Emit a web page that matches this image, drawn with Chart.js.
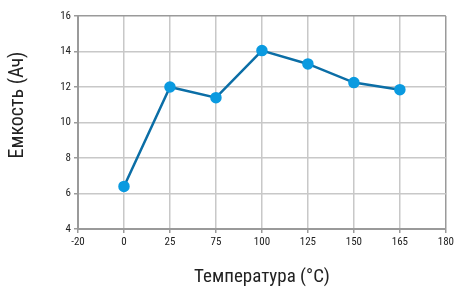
<!DOCTYPE html>
<html lang="ru">
<head>
    <meta charset="UTF-8">
    <title>Емкость от температуры</title>
    <script src="https://cdn.jsdelivr.net/npm/chart.js"></script>
    <style>
        html, body { margin: 0; padding: 0; background: #fff; }
        #wrap { width: 457px; height: 289px; }
    </style>
</head>
<body>
    <div id="wrap"><canvas id="chartCap" width="457" height="289"></canvas></div>
    <script>
        // Данные графика
        const temperatures = ['-20', '0', '25', '75', '100', '125', '150', '165', '180'];
        const capacity = [null, 6.4, 12.0, 11.4, 14.05, 13.3, 12.25, 11.85, null];
        const yTicks = [4, 6, 8, 10, 12, 14, 16];
        const yTitle = 'Емкость (Ач)';
        const xTitle = 'Температура (°C)';

        const fontFamily = "'Liberation Sans Narrow', 'Roboto Condensed', Roboto, sans-serif";
        const edgeColor = '#9a9a9a';
        const gridColor = '#c8c8c8';

        // подпись оси Y рисуем сами - в оригинале она сдвинута вверх от центра
        const yTitlePlugin = {
            id: 'yTitle',
            afterDraw(chart) {
                const c = chart.ctx;
                c.save();
                c.translate(18, 105);
                c.rotate(-Math.PI / 2);
                c.font = '20px ' + fontFamily;
                c.fillStyle = '#222';
                c.textAlign = 'center';
                c.textBaseline = 'middle';
                c.fillText(yTitle, 0, 0);
                c.restore();
            }
        };

        const ctx = document.getElementById('chartCap').getContext('2d');
        new Chart(ctx, {
            type: 'line',
            data: {
                labels: temperatures,
                datasets: [{
                    data: capacity,
                    borderColor: '#0b6ea6',
                    borderWidth: 2.5,
                    pointBackgroundColor: '#0a9ae0',
                    pointBorderColor: '#0a9ae0',
                    pointRadius: 4.5,
                    tension: 0
                }]
            },
            options: {
                responsive: false,
                animation: false,
                layout: { padding: { top: 16, right: 10, left: 0, bottom: 0 } },
                plugins: {
                    legend: { display: false },
                    tooltip: { enabled: false }
                },
                scales: {
                    x: {
                        offset: false,
                        grid: {
                            color: c => (c.index === 0 || c.index === temperatures.length - 1) ? edgeColor : gridColor,
                            lineWidth: 1.5,
                            tickLength: 4,
                            tickColor: edgeColor
                        },
                        border: { color: edgeColor, width: 2 },
                        ticks: {
                            color: '#222',
                            font: { family: fontFamily, size: 11 },
                            maxRotation: 0,
                            padding: 3
                        },
                        title: {
                            display: true,
                            text: xTitle,
                            color: '#222',
                            font: { family: fontFamily, size: 19 },
                            padding: { bottom: 0 }
                        },
                        afterFit: s => { s.height = 60; }
                    },
                    y: {
                        min: 4,
                        max: 16,
                        afterBuildTicks: s => { s.ticks = yTicks.map(v => ({ value: v })); },
                        grid: {
                            color: c => (c.tick && c.tick.value === 16) ? edgeColor : gridColor,
                            lineWidth: 1.5,
                            tickLength: 4,
                            tickColor: edgeColor
                        },
                        border: { color: edgeColor, width: 2 },
                        ticks: {
                            color: '#222',
                            font: { family: fontFamily, size: 11 },
                            padding: 3
                        },
                        afterFit: s => { s.width = 78; }
                    }
                }
            },
            plugins: [yTitlePlugin]
        });
    </script>
</body>
</html>
